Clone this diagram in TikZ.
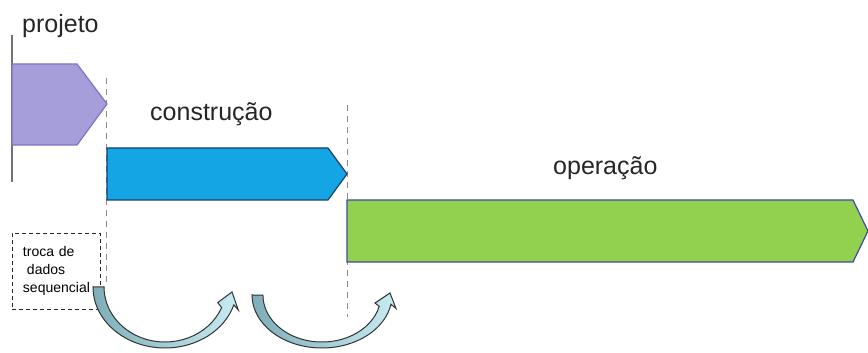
\documentclass[tikz,border=0pt]{standalone}
\usepackage{fontspec}
\setmainfont{Liberation Sans}
\definecolor{projfill}{HTML}{A69DDB}
\definecolor{projline}{HTML}{7E72C4}
\definecolor{constrfill}{HTML}{14A6E4}
\definecolor{constrline}{HTML}{1C3F6E}
\definecolor{operfill}{HTML}{92D050}
\definecolor{operline}{HTML}{3C4C9C}
\definecolor{arrowdark}{HTML}{7FAEB8}
\definecolor{arrowlight}{HTML}{C8ECF2}
\tikzset{
  phase/.style={inner sep=0pt, font=\fontsize{25}{28}\selectfont, text=black!85},
  bar/.style={line width=1.2pt, line join=miter},
  marker/.style={draw=black!55, line width=1.2pt},
  divider/.style={draw=black!45, line width=1pt, dash pattern=on 6pt off 5pt},
  notebox/.style={draw=black!85, line width=0.8pt, dash pattern=on 4pt off 3pt,
    minimum width=88pt, minimum height=76pt, text width=66pt, align=left,
    inner sep=0pt, font=\fontsize{14}{18}\selectfont},
  loop/.style={draw=black!80, line width=1pt, left color=arrowdark, right color=arrowlight}
}
\begin{document}
\begin{tikzpicture}[x=1pt,y=1pt]
  \useasboundingbox (0,0) rectangle (868,353);

  \node[phase, anchor=base west] (proj) at (22,320) {projeto};
  \node[phase, anchor=base west] (constr) at (150,232) {construção};
  \node[phase, anchor=base west] (oper) at (553,178) {operação};

  \draw[marker] (12,318) -- (12,171);
  \draw[divider] (106,275) -- (106,68);
  \draw[divider] (347,248) -- (347,36);

  \draw[bar, fill=projfill, draw=projline] (12,289) -- (77,289) -- (107,249) -- (77,208) -- (12,208) -- cycle;
  \draw[bar, fill=constrfill, draw=constrline] (107,205) -- (328,205) -- (347,179) -- (328,153) -- (107,153) -- cycle;
  \draw[bar, fill=operfill, draw=operline] (347,153) -- (853,153) -- (868,122) -- (853,91) -- (347,91) -- cycle;

  \node[notebox] (troca) at (56,82) {troca de\\\hspace{4pt}dados\\sequencial};

  % the two hand-over arrows
  \draw[loop] (93,66) arc[start angle=180, end angle=343, x radius=72, y radius=61]
    -- (238.3,43.0) -- (232,61) -- (217.7,50.4) -- (221.6,45.4)
    arc[start angle=338, end angle=180, x radius=61, y radius=55] -- cycle;
  \draw[loop] (252,58) arc[start angle=180, end angle=350, x radius=70, y radius=53]
    -- (396,44.5) -- (390,60) -- (375,50) -- (379.2,46.6)
    arc[start angle=346, end angle=180, x radius=59, y radius=47] -- cycle;
\end{tikzpicture}
\end{document}
